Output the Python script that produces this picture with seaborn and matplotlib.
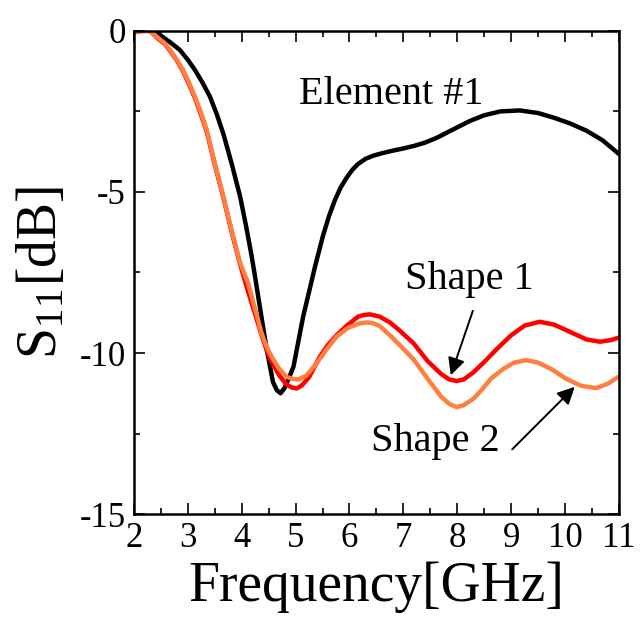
import matplotlib
matplotlib.use("Agg")
import matplotlib.pyplot as plt
import seaborn as sns
import pandas as pd
from matplotlib.ticker import MultipleLocator

# ---- data ----
freq_e1 = [2.0, 2.2, 2.36, 2.5, 2.67, 2.85, 3.0, 3.13, 3.27, 3.41, 3.54, 3.66, 3.81, 3.97,
           4.08, 4.18, 4.24, 4.33, 4.46, 4.58, 4.65, 4.72, 4.79, 4.87, 4.96, 5.05, 5.14,
           5.25, 5.36, 5.51, 5.62, 5.73, 5.84, 5.95, 6.06, 6.16, 6.3, 6.45, 6.6, 6.8, 7.0,
           7.2, 7.4, 7.62, 7.9, 8.23, 8.5, 8.8, 9.16, 9.5, 9.8, 10.09, 10.4, 10.7, 10.95, 11.0]
s11_e1 = [0.0, 0.0, 0.0, -0.15, -0.35, -0.59, -0.9, -1.21, -1.6, -2.04, -2.6, -3.2, -4.1,
          -5.14, -6.05, -6.95, -7.55, -8.5, -9.85, -10.9, -11.15, -11.25, -11.1, -10.8,
          -10.43, -9.65, -8.87, -8.1, -7.32, -6.35, -5.75, -5.25, -4.85, -4.55, -4.3, -4.13,
          -3.97, -3.87, -3.8, -3.72, -3.65, -3.57, -3.47, -3.32, -3.08, -2.8, -2.62, -2.5,
          -2.47, -2.55, -2.7, -2.87, -3.1, -3.4, -3.75, -3.82]

freq_s1 = [2.0, 2.15, 2.3, 2.45, 2.57, 2.67, 2.79, 2.91, 3.02, 3.13, 3.24, 3.35, 3.5, 3.66,
           3.81, 3.97, 4.12, 4.25, 4.37, 4.46, 4.55, 4.69, 4.83, 4.93, 5.02, 5.12, 5.25,
           5.45, 5.6, 5.76, 5.95, 6.16, 6.27, 6.38, 6.56, 6.75, 6.93, 7.19, 7.45, 7.7, 7.85,
           7.99, 8.12, 8.3, 8.5, 8.75, 9.0, 9.25, 9.53, 9.8, 10.1, 10.4, 10.65, 10.85, 11.0]
s11_s1 = [-0.05, 0.0, 0.0, -0.25, -0.4, -0.62, -0.9, -1.25, -1.65, -2.08, -2.58, -3.12,
          -4.15, -5.18, -6.22, -7.25, -8.1, -8.8, -9.45, -9.9, -10.25, -10.68, -10.98,
          -11.07, -11.1, -11.0, -10.75, -10.11, -9.75, -9.45, -9.15, -8.87, -8.82, -8.8,
          -8.87, -9.05, -9.3, -9.7, -10.25, -10.65, -10.82, -10.87, -10.82, -10.6, -10.28,
          -9.85, -9.45, -9.15, -9.03, -9.12, -9.35, -9.58, -9.65, -9.6, -9.52]

freq_s2 = [2.0, 2.15, 2.3, 2.45, 2.57, 2.67, 2.79, 2.91, 3.02, 3.13, 3.24, 3.35, 3.5, 3.66,
           3.81, 3.97, 4.12, 4.25, 4.37, 4.46, 4.55, 4.69, 4.83, 4.94, 5.05, 5.2, 5.39,
           5.57, 5.76, 5.97, 6.19, 6.32, 6.45, 6.56, 6.75, 6.93, 7.19, 7.45, 7.7, 7.85, 7.99,
           8.12, 8.3, 8.45, 8.63, 8.85, 9.05, 9.28, 9.5, 9.75, 10.01, 10.3, 10.58, 10.8, 11.0]
s11_s2 = [-0.05, 0.0, 0.0, -0.22, -0.38, -0.59, -0.88, -1.21, -1.6, -2.04, -2.52, -3.07,
          -4.11, -5.14, -6.18, -7.2, -7.84, -8.65, -9.39, -9.8, -10.1, -10.48, -10.74,
          -10.8, -10.82, -10.7, -10.32, -9.9, -9.49, -9.22, -9.08, -9.05, -9.08, -9.16,
          -9.45, -9.75, -10.2, -10.8, -11.35, -11.58, -11.68, -11.62, -11.42, -11.15,
          -10.79, -10.5, -10.3, -10.22, -10.3, -10.5, -10.79, -11.02, -11.09, -10.95, -10.73]

series_names = ["Element #1", "Shape 1", "Shape 2"]
series_colors = ["#000000", "#ff0000", "#ff7f3f"]
x_ticks = [2, 3, 4, 5, 6, 7, 8, 9, 10, 11]
x_tick_labels = ["2", "3", "4", "5", "6", "7", "8", "9", "10", "11"]
y_ticks = [0, -5, -10, -15]
y_tick_labels = ["0", "-5", "-10", "-15"]

df = pd.concat([
    pd.DataFrame({"f": freq_e1, "s11": s11_e1, "series": series_names[0]}),
    pd.DataFrame({"f": freq_s1, "s11": s11_s1, "series": series_names[1]}),
    pd.DataFrame({"f": freq_s2, "s11": s11_s2, "series": series_names[2]}),
], ignore_index=True)

sns.set_theme(style="ticks")
SERIF = ["Liberation Serif", "DejaVu Serif"]
plt.rcParams["font.family"] = SERIF
plt.rcParams["text.color"] = "black"
plt.rcParams["axes.labelcolor"] = "black"
plt.rcParams["mathtext.fontset"] = "stix"

fig = plt.figure(figsize=(6.44, 6.30), dpi=100)
ax = fig.add_axes([0.208, 0.184, 0.753, 0.767])

sns.lineplot(data=df, x="f", y="s11", hue="series", hue_order=series_names,
             palette=dict(zip(series_names, series_colors)), estimator=None, sort=False,
             linewidth=3.2, legend=False, ax=ax)

ax.set_xlim(2, 11)
ax.set_ylim(-15, 0)
ax.set_xticks(x_ticks, labels=x_tick_labels, fontfamily=SERIF, fontsize=25, color="black")
ax.set_yticks(y_ticks, labels=y_tick_labels, fontfamily=SERIF, fontsize=25, color="black")
ax.xaxis.set_minor_locator(MultipleLocator(0.5))
ax.yaxis.set_minor_locator(MultipleLocator(2.5))
ax.tick_params(which="both", direction="in", top=True, right=True, colors="black", width=1.2)
ax.tick_params(which="major", length=8, pad=6)
ax.tick_params(which="minor", length=4)
for s in ax.spines.values():
    s.set_linewidth(1.8)
    s.set_color("black")

ax.set_xlabel("Frequency[GHz]", fontsize=40, labelpad=4, fontfamily=SERIF, color="black")
ax.set_ylabel(r"S$_{\mathregular{11}}$[dB]", fontsize=40, labelpad=8, fontfamily=SERIF,
              color="black")

ax.text(6.77, -1.99, "Element #1", fontsize=29, ha="center", va="center", fontfamily=SERIF)
ax.text(8.23, -7.73, "Shape 1", fontsize=29, ha="center", va="center", fontfamily=SERIF)
ax.text(7.60, -12.76, "Shape 2", fontsize=29, ha="center", va="center", fontfamily=SERIF)
arrow = dict(arrowstyle="-|>", lw=1.4, color="black", mutation_scale=26, shrinkA=0, shrinkB=0)
ax.annotate("", xy=(7.88, -10.69), xytext=(8.29, -8.69), arrowprops=arrow)
ax.annotate("", xy=(10.18, -11.05), xytext=(9.02, -12.99), arrowprops=arrow)

fig.savefig("out.png", dpi=100)
